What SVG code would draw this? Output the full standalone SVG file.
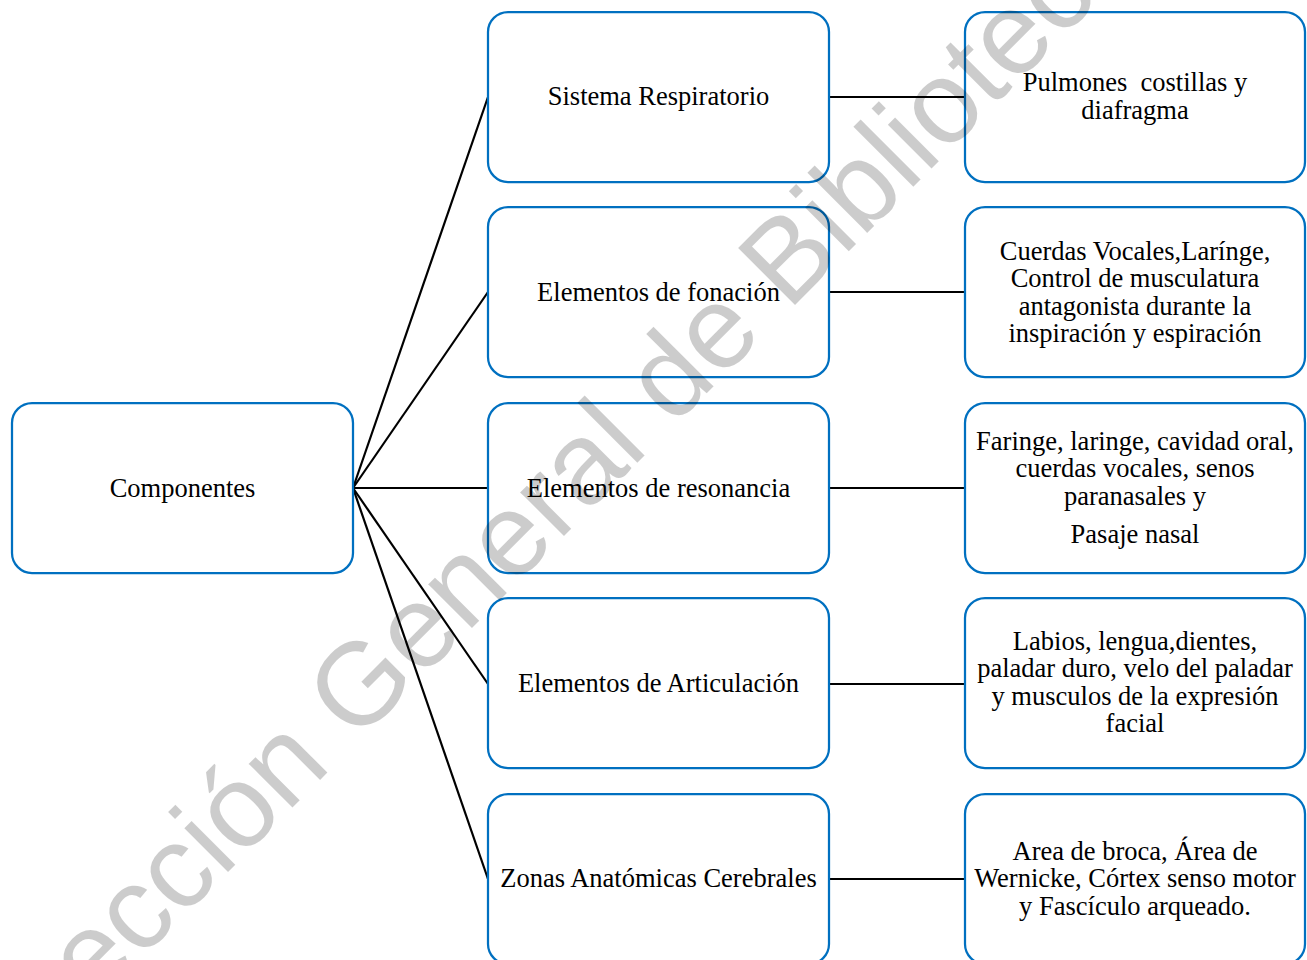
<svg xmlns="http://www.w3.org/2000/svg" width="1307" height="960" viewBox="0 0 1307 960">
  <style>
    .box { fill: #ffffff; stroke: #0070c0; stroke-width: 2.25; }
    .lbl { font-family: "Liberation Serif", "Times New Roman", serif; font-size: 26.5px; fill: #000000; text-anchor: middle; }
    .link { stroke: #000000; stroke-width: 2.2; fill: none; }
    .mark { font-family: "Liberation Sans", Arial, sans-serif; font-size: 117px; fill: #000000; fill-opacity: 0.2; }
  </style>
  <rect x="0" y="0" width="1307" height="960" fill="#ffffff"/>

  <!-- connectors -->
  <g id="connectors">
    <line class="link" x1="353" y1="488" x2="488" y2="97"/>
    <line class="link" x1="353" y1="488" x2="488" y2="292"/>
    <line class="link" x1="353" y1="488" x2="488" y2="488"/>
    <line class="link" x1="353" y1="488" x2="488" y2="684"/>
    <line class="link" x1="353" y1="488" x2="488" y2="879"/>
    <line class="link" x1="829" y1="97" x2="965" y2="97"/>
    <line class="link" x1="829" y1="292" x2="965" y2="292"/>
    <line class="link" x1="829" y1="488" x2="965" y2="488"/>
    <line class="link" x1="829" y1="684" x2="965" y2="684"/>
    <line class="link" x1="829" y1="879" x2="965" y2="879"/>
  </g>

  <!-- root -->
  <g id="componentes">
    <rect class="box" x="12" y="403" width="341" height="170" rx="20"/>
    <text class="lbl" x="182.5" y="497">Componentes</text>
  </g>

  <!-- middle column -->
  <g id="sistema-respiratorio">
    <rect class="box" x="488" y="12" width="341" height="170" rx="20"/>
    <text class="lbl" x="658.5" y="105">Sistema Respiratorio</text>
  </g>
  <g id="elementos-fonacion">
    <rect class="box" x="488" y="207" width="341" height="170" rx="20"/>
    <text class="lbl" x="658.5" y="301">Elementos de fonación</text>
  </g>
  <g id="elementos-resonancia">
    <rect class="box" x="488" y="403" width="341" height="170" rx="20"/>
    <text class="lbl" x="658.5" y="497">Elementos de resonancia</text>
  </g>
  <g id="elementos-articulacion">
    <rect class="box" x="488" y="598" width="341" height="170" rx="20"/>
    <text class="lbl" x="658.5" y="692">Elementos de Articulación</text>
  </g>
  <g id="zonas-cerebrales">
    <rect class="box" x="488" y="794" width="341" height="170" rx="20"/>
    <text class="lbl" x="658.5" y="887">Zonas Anatómicas Cerebrales</text>
  </g>

  <!-- right column -->
  <g id="pulmones">
    <rect class="box" x="965" y="12" width="340" height="170" rx="20"/>
    <text class="lbl" x="1135" y="91" xml:space="preserve">Pulmones  costillas y</text>
    <text class="lbl" x="1135" y="119">diafragma</text>
  </g>
  <g id="cuerdas-vocales">
    <rect class="box" x="965" y="207" width="340" height="170" rx="20"/>
    <text class="lbl" x="1135" y="260">Cuerdas Vocales,Larínge,</text>
    <text class="lbl" x="1135" y="287">Control de musculatura</text>
    <text class="lbl" x="1135" y="315">antagonista durante la</text>
    <text class="lbl" x="1135" y="342">inspiración y espiración</text>
  </g>
  <g id="faringe">
    <rect class="box" x="965" y="403" width="340" height="170" rx="20"/>
    <text class="lbl" x="1135" y="450">Faringe, laringe, cavidad oral,</text>
    <text class="lbl" x="1135" y="477">cuerdas vocales, senos</text>
    <text class="lbl" x="1135" y="505">paranasales y</text>
    <text class="lbl" x="1135" y="543">Pasaje nasal</text>
  </g>
  <g id="labios">
    <rect class="box" x="965" y="598" width="340" height="170" rx="20"/>
    <text class="lbl" x="1135" y="650">Labios, lengua,dientes,</text>
    <text class="lbl" x="1135" y="677">paladar duro, velo del paladar</text>
    <text class="lbl" x="1135" y="705">y musculos de la expresión</text>
    <text class="lbl" x="1135" y="732">facial</text>
  </g>
  <g id="area-broca">
    <rect class="box" x="965" y="794" width="340" height="170" rx="20"/>
    <text class="lbl" x="1135" y="860">Area de broca, Área de</text>
    <text class="lbl" x="1135" y="887">Wernicke, Córtex senso motor</text>
    <text class="lbl" x="1135" y="915">y Fascículo arqueado.</text>
  </g>

  <!-- diagonal watermark across the page -->
  <text class="mark" transform="translate(-12,1112) rotate(-45)" x="0" y="0">Dirección General de Bibliotecas</text>
</svg>
